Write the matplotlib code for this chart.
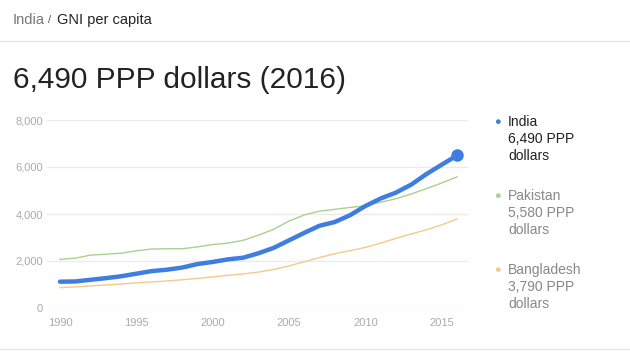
import matplotlib.pyplot as plt
from matplotlib.lines import Line2D

# GNI per capita, PPP dollars
years = list(range(1990, 2017))
india = [1120, 1130, 1200, 1270, 1350, 1460, 1570, 1630, 1720, 1870, 1960, 2070, 2140,
         2330, 2560, 2880, 3200, 3500, 3660, 3950, 4340, 4660, 4910, 5250, 5700, 6100, 6490]
pakistan = [2070, 2120, 2250, 2290, 2330, 2430, 2510, 2520, 2520, 2600, 2700, 2760, 2880,
            3100, 3350, 3700, 3960, 4120, 4200, 4280, 4350, 4500, 4650, 4850, 5080, 5320, 5580]
bangladesh = [865, 900, 940, 980, 1020, 1070, 1110, 1150, 1200, 1260, 1320, 1390, 1450,
              1530, 1640, 1790, 1970, 2150, 2310, 2440, 2580, 2760, 2960, 3150, 3330, 3540, 3790]

countries = ['India', 'Pakistan', 'Bangladesh']
latest = ['6,490', '5,580', '3,790']
colors = ['#3f7ee0', '#a9d18e', '#f5c98a']
text_colors = ['#222222', '#888888', '#888888']

yticks = [0, 2000, 4000, 6000, 8000]
xticks = [1990, 1995, 2000, 2005, 2010, 2015]

plt.rcParams['font.family'] = ['Liberation Sans', 'DejaVu Sans']

fig = plt.figure(figsize=(6.3, 3.61), dpi=100)
W, H = 630., 361.

# header
fig.text(13/W, 1 - 20/H, 'India', color='#777777', fontsize=10.5, va='center')
fig.text(48/W, 1 - 20/H, '/', color='#555555', fontsize=8, va='center')
fig.text(57/W, 1 - 20/H, 'GNI per capita', color='#222222', fontsize=10.5, va='center')
fig.add_artist(Line2D([0, 1], [1 - 41/H, 1 - 41/H], color='#e6e6e6', lw=1))
fig.add_artist(Line2D([0, 1], [1 - 349/H, 1 - 349/H], color='#e6e6e6', lw=1))
fig.text(13/W, 1 - 80/H, '6,490 PPP dollars (2016)', color='#222222', fontsize=21.5, va='center')

ax = fig.add_axes([47/W, 1 - 308/H, 421/W, 188/H])
ax.plot(years, bangladesh, color=colors[2], lw=1, zorder=2)
ax.plot(years, pakistan, color=colors[1], lw=1, zorder=2)
ax.plot(years, india, color=colors[0], lw=3.2, solid_capstyle='round', zorder=3)
ax.plot(years[-1], india[-1], 'o', color=colors[0], ms=8, zorder=4)

ax.set_xlim(1989.15, 2016.72)
ax.set_ylim(0, 8000)
ax.set_yticks(yticks)
ax.set_yticklabels(['0', '2,000', '4,000', '6,000', '8,000'])
ax.set_xticks(xticks)
ax.grid(axis='y', color='#ebebeb', lw=1)
ax.set_axisbelow(True)
for s in ax.spines.values():
    s.set_visible(False)
ax.tick_params(length=0, colors='#aaaaaa', labelsize=8)
ax.tick_params(axis='y', pad=3)
ax.tick_params(axis='x', pad=7)

# legend on the right
for i, name in enumerate(countries):
    y0 = 122 + i * 74
    fig.text(497/W, 1 - y0/H, '\u25cf', color=colors[i], fontsize=8, ha='center', va='center')
    fig.text(508/W, 1 - (y0 - 7)/H, name + '\n' + latest[i] + ' PPP\ndollars',
             color=text_colors[i], fontsize=10, va='top', ha='left', linespacing=1.25)

fig.savefig('out.png', dpi=100)
